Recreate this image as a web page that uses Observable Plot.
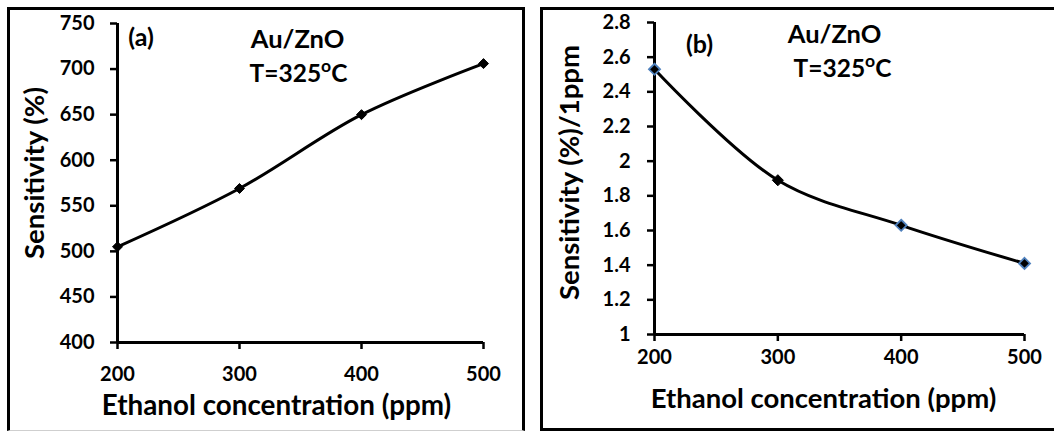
<!DOCTYPE html>
<html>
<head>
<meta charset="utf-8">
<script src="https://cdn.jsdelivr.net/npm/d3@7"></script>
<script src="https://cdn.jsdelivr.net/npm/@observablehq/plot@0.6"></script>
<style>
  html, body { margin: 0; padding: 0; background: white; }
  #wrap { position: relative; width: 1054px; height: 431px; overflow: hidden; background: white; font-family: Lato, sans-serif; }
  .panel { position: absolute; box-sizing: border-box; }
  #frameA { left: 7px; top: 7px; width: 518px; height: 424px; border: 3px solid black; border-bottom: 1px solid #cfcfcf; }
  #frameB { left: 540px; top: 7px; width: 530px; height: 424px; border: 3px solid black; }
  #plotA { position: absolute; left: 0; top: 0; }
  #plotB { position: absolute; left: 527px; top: 0; }
</style>
</head>
<body>
<div id="wrap">
  <div class="panel" id="frameA"></div>
  <div class="panel" id="frameB"></div>
  <div id="plotA"></div>
  <div id="plotB"></div>
</div>
<script>
// ---- data ----
const concentration = [200, 300, 400, 500];
const sensitivity = [505, 569, 650, 706];           // panel (a), %
const sensitivityPerPpm = [2.53, 1.89, 1.63, 1.41]; // panel (b), %/1ppm
const xTicks = [200, 300, 400, 500];
const yTicksA = [400, 450, 500, 550, 600, 650, 700, 750];
const yTicksB = [1, 1.2, 1.4, 1.6, 1.8, 2, 2.2, 2.4, 2.6, 2.8];
const xLabel = "Ethanol concentration (ppm)";
const yLabelA = "Sensitivity (%)";
const yLabelB = "Sensitivity (%)/1ppm";
const material = "Au/ZnO";
const temperature = "T=325oC";

const dataA = concentration.map((c, i) => ({x: c, y: sensitivity[i]}));
const dataB = concentration.map((c, i) => ({x: c, y: sensitivityPerPpm[i]}));

const FONT = "Lato, 'Open Sans', sans-serif";
const txt = {fontWeight: "bold", textAnchor: "middle", lineAnchor: "middle"};
const svgStyle = {fontFamily: FONT, fontWeight: "bold", color: "black", background: "transparent", overflow: "visible"};

function superscriptFix(svg) {
  d3.select(svg).selectAll("text").each(function() {
    if (this.textContent === temperature) {
      const t = d3.select(this);
      t.text(null);
      t.append("tspan").text("T=325");
      t.append("tspan").text("o").attr("font-size", "0.72em").attr("dy", "-0.6em");
      t.append("tspan").text("C").attr("dy", "0.43em");
    }
  });
  d3.select(svg).selectAll("text").attr("font-weight", "bold");
  return svg;
}

const plotA = Plot.plot({
  width: 524, height: 431,
  marginLeft: 117, marginRight: 41, marginTop: 23, marginBottom: 89,
  style: svgStyle,
  x: {domain: [200, 500]},
  y: {domain: [400, 750]},
  marks: [
    Plot.axisY({ticks: yTicksA, tickSize: 7, tickPadding: 16, fontSize: 20, fontWeight: "bold", strokeWidth: 2.5, label: null}),
    Plot.axisX({ticks: xTicks, tickSize: 7, tickPadding: 17, fontSize: 20, fontWeight: "bold", strokeWidth: 2.5, label: null}),
    Plot.ruleX([200], {strokeWidth: 3}),
    Plot.ruleY([400], {strokeWidth: 3}),
    Plot.line(dataA, {x: "x", y: "y", curve: "catmull-rom", strokeWidth: 3, stroke: "black"}),
    Plot.dot(dataA, {x: "x", y: "y", symbol: "diamond2", r: 4.5, fill: "black", stroke: "black", strokeWidth: 1}),
    Plot.text([xLabel], {frameAnchor: "bottom", dx: -24, dy: 64, fontSize: 27.8, ...txt}),
    Plot.text([yLabelA], {frameAnchor: "left", rotate: -90, dx: -82, dy: -10, fontSize: 27.5, ...txt}),
    Plot.text(["(a)"], {frameAnchor: "top-left", dx: 23.5, dy: 14, fontSize: 25, ...txt}),
    Plot.text([material], {frameAnchor: "top-left", dx: 180, dy: 16, fontSize: 25.5, ...txt}),
    Plot.text([temperature], {frameAnchor: "top-left", dx: 181, dy: 51, fontSize: 24.5, ...txt})
  ]
});
document.getElementById("plotA").append(superscriptFix(plotA));

const plotB = Plot.plot({
  width: 527, height: 431,
  marginLeft: 127, marginRight: 30, marginTop: 22, marginBottom: 97,
  style: svgStyle,
  x: {domain: [200, 500]},
  y: {domain: [1, 2.8]},
  marks: [
    Plot.axisY({ticks: yTicksB, tickFormat: d => String(+d.toFixed(1)), tickSize: 7, tickPadding: 17, fontSize: 20, fontWeight: "bold", strokeWidth: 2.5, label: null}),
    Plot.axisX({ticks: xTicks, tickSize: 7, tickPadding: 8, fontSize: 20, fontWeight: "bold", strokeWidth: 2.5, label: null}),
    Plot.ruleX([200], {strokeWidth: 3}),
    Plot.ruleY([1], {strokeWidth: 3}),
    Plot.line(dataB, {x: "x", y: "y", curve: "catmull-rom", strokeWidth: 3, stroke: "black"}),
    Plot.dot(dataB, {x: "x", y: "y", filter: d => d.x !== 300, symbol: "diamond2", r: 5, fill: "black", stroke: "#4f81bd", strokeWidth: 1.8}),
    Plot.dot(dataB, {x: "x", y: "y", filter: d => d.x === 300, symbol: "diamond2", r: 5, fill: "black", stroke: "black", strokeWidth: 1}),
    Plot.text([xLabel], {frameAnchor: "bottom", dx: -16, dy: 65, fontSize: 27.5, ...txt}),
    Plot.text([yLabelB], {frameAnchor: "left", rotate: -90, dx: -84, dy: -6, fontSize: 27.5, ...txt}),
    Plot.text(["(b)"], {frameAnchor: "top-left", dx: 45, dy: 22, fontSize: 25, ...txt}),
    Plot.text([material], {frameAnchor: "top-left", dx: 180, dy: 12, fontSize: 25.5, ...txt}),
    Plot.text([temperature], {frameAnchor: "top-left", dx: 188, dy: 47, fontSize: 24.5, ...txt})
  ]
});
document.getElementById("plotB").append(superscriptFix(plotB));
</script>
</body>
</html>
